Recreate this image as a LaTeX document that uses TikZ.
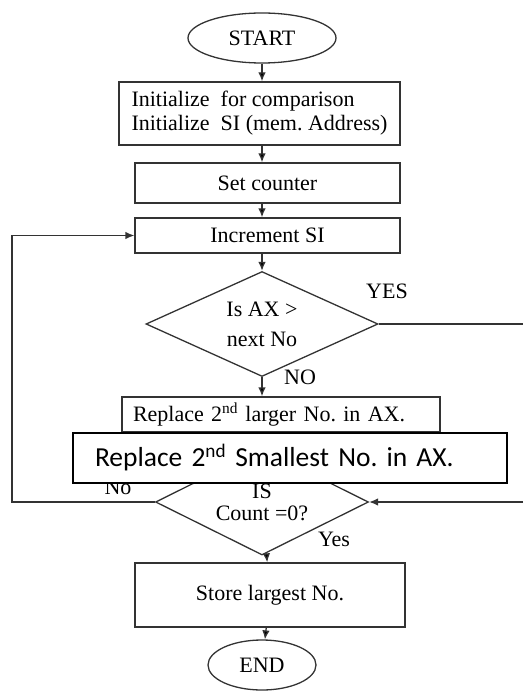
\documentclass[tikz,border=0pt]{standalone}
\usepackage{fontspec}
\setmainfont{Liberation Serif}
\newfontfamily\calibrifont{Carlito}
\usepackage{tikz}
\usetikzlibrary{shapes.geometric,arrows.meta}
\tikzstyle{terminal}=[ellipse,draw=black!80,inner sep=0pt]
\tikzstyle{process}=[rectangle,draw=black!80,inner sep=0pt]
\tikzstyle{decision}=[diamond,draw=black!80,inner sep=0pt,aspect=2.2]
\tikzstyle{tag}=[inner sep=0pt]
\tikzstyle{overlaybox}=[rectangle,draw=black,fill=white,inner ysep=0pt,
font=\calibrifont\fontsize{27.5}{32}\selectfont]

\begin{document}
\begin{tikzpicture}[x=1pt,y=-1pt,>={Latex[length=9pt,width=7.5pt]},
    line width=1.3pt,font=\fontsize{22}{24}\selectfont]
    \useasboundingbox (0,0) rectangle (523,692);
    % main column of the chart
    \node (start) [terminal,minimum width=148pt,minimum height=50pt] at (262,38) {START};
    \node (init)  [process,minimum width=281pt,minimum height=63pt,align=left] at (259.5,113.5)
      {Initialize\ \ for comparison\\Initialize\ \ SI (mem.\ Address)};
    \node (setc)  [process,minimum width=265pt,minimum height=40pt] at (267.5,183) {Set counter};
    \node (incsi) [process,minimum width=265pt,minimum height=35pt] at (267.5,235.5) {Increment SI};
    \node (cmp)   [decision,minimum width=232pt,minimum height=105pt,align=center] at (262,324)
      {Is AX >\\[6pt]next No};
    \node (repl)  [process,minimum width=318pt,minimum height=35pt,text width=296pt,
      inner xsep=11pt,align=left] at (281,414.5) {Replace 2\textsuperscript{nd} larger No.\ in AX.};
    \node (cnt)   [decision,minimum width=213pt,minimum height=106pt,align=center] at (262,502)
      {IS\\[-2pt]Count =0?};
    \node (store) [process,minimum width=270pt,minimum height=64pt] at (270,595) {Store largest No.};
    \node (endn)  [terminal,minimum width=108pt,minimum height=50pt] at (262,665) {END};
    % branch labels
    \node (yes1) [tag] at (387,291) {YES};
    \node (no1)  [tag] at (300,377) {NO};
    \node (no2)  [tag] at (118,487) {No};
    \node (yes2) [tag] at (334,539) {Yes};
    % free ends of the side lines
    \coordinate (edgeR) at (523,0);
    \coordinate (edgeL) at (12,0);
    % the chart elements are connected through arrows:
    \path[->,draw=black!80]
    (start) edge (start |- init.north)
    (start |- init.south) edge (start |- setc.north)
    (start |- setc.south) edge (start |- incsi.north)
    (start |- incsi.south) edge (cmp)
    (cmp) edge (cmp |- repl.north)
    (cmp |- repl.south) edge (cnt)
    (cnt) edge (store)
    (store) edge (endn);
    \draw[black!80] (cmp.east) -- (cmp.east -| edgeR);
    \draw[->,black!80] (cnt.east -| edgeR) -- (cnt.east);
    \draw[->,black!80] (cnt.west) -- (cnt.west -| edgeL) -- (incsi.west -| edgeL) -- (incsi.west);
    % box laid over the chart
    \node (repl2) [overlaybox,minimum width=434pt,minimum height=50pt,text width=390pt,
      inner xsep=22pt,align=left] at (290,458) {Replace 2\textsuperscript{nd} Smallest No.\ in AX.};
  \end{tikzpicture}
\end{document}
